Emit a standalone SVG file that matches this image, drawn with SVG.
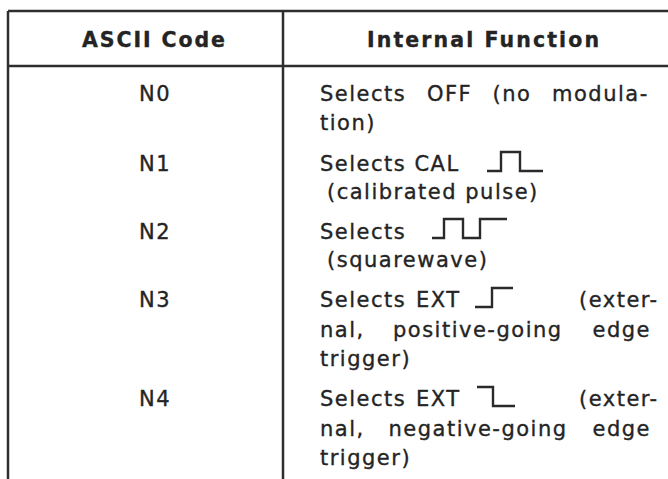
<svg xmlns="http://www.w3.org/2000/svg" width="668" height="479" viewBox="0 0 668 479">
<style>
.rule{stroke:#2e2e2e;stroke-width:2.5;fill:none}
.wave{stroke:#2a2a2a;stroke-width:2.4;fill:none;stroke-linejoin:miter}
text{font-family:"DejaVu Sans","Liberation Sans",sans-serif;font-size:21px;letter-spacing:1.5px;fill:#242424;stroke:#242424;stroke-width:0.35px}
.hd{font-weight:bold;font-size:20.5px;letter-spacing:0}
.code{text-anchor:middle}
</style>
<rect width="668" height="479" fill="#ffffff"/>
<g id="grid">
<path class="rule" d="M8,11 H668 M8,66 H668 M8,11 V479 M283,11 V479"/>
</g>
<g id="header">
<text class="hd" x="82" y="47" textLength="143" lengthAdjust="spacing">ASCII Code</text>
<text class="hd" x="367" y="47" textLength="232" lengthAdjust="spacing">Internal Function</text>
</g>
<g id="row-n0">
<text class="code" x="155" y="101">N0</text>
<text y="101"><tspan x="320">Selects</tspan><tspan x="427">OFF</tspan><tspan x="492.5">(no</tspan><tspan x="552">modula-</tspan></text>
<text x="320" y="130">tion)</text>
</g>
<g id="row-n1">
<text class="code" x="155" y="171">N1</text>
<text x="320" y="171">Selects CAL</text>
<path class="wave" d="M487,171 H501 V152 H520 V171 H543"/>
<text x="327" y="199">(calibrated pulse)</text>
</g>
<g id="row-n2">
<text class="code" x="155" y="239">N2</text>
<text x="320" y="239">Selects</text>
<path class="wave" d="M432,238 H444 V219 H463 V238 H480 V219 H507"/>
<text x="327" y="267">(squarewave)</text>
</g>
<g id="row-n3">
<text class="code" x="155" y="307">N3</text>
<text y="307"><tspan x="320">Selects</tspan><tspan x="416">EXT</tspan><tspan x="579">(exter-</tspan></text>
<path class="wave" d="M475,307 H492 V288 H513"/>
<text y="337"><tspan x="320">nal,</tspan><tspan x="393">positive-going</tspan><tspan x="592.5">edge</tspan></text>
<text x="320" y="366">trigger)</text>
</g>
<g id="row-n4">
<text class="code" x="155" y="406">N4</text>
<text y="406"><tspan x="320">Selects</tspan><tspan x="416">EXT</tspan><tspan x="579">(exter-</tspan></text>
<path class="wave" d="M477,387 H493 V406 H515"/>
<text y="436"><tspan x="320">nal,</tspan><tspan x="388.5">negative-going</tspan><tspan x="592.5">edge</tspan></text>
<text x="320" y="465">trigger)</text>
</g>
</svg>
